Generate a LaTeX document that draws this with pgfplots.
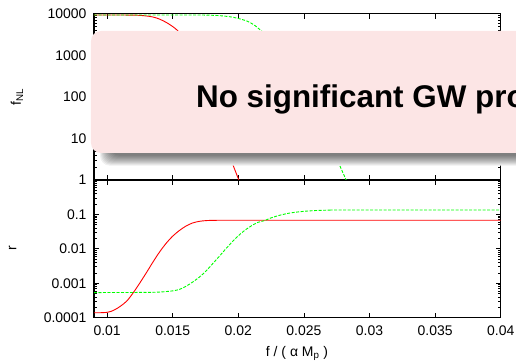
\documentclass[border=0pt]{standalone}
\usepackage{pgfplots}
\pgfplotsset{compat=1.18}
\usepackage{fontspec}
\setmainfont{Liberation Sans}
\definecolor{boxpink}{RGB}{252,229,229}
\definecolor{gpgreen}{RGB}{0,255,0}
\pgfplotsset{
  panelstyle/.style={
    scale only axis, width=406.7bp,
    xmin=0.009, xmax=0.04,
    scaled ticks=false,
    axis line style={line width=1.3bp, black},
    tick style={black, line width=0.8bp},
    major tick length=5bp, minor tick length=2.5bp,
    tick align=inside,
    xtick={0.01,0.015,0.02,0.025,0.03,0.035,0.04},
    ticklabel style={font=\fontsize{14}{16}\selectfont},
    /pgf/number format/assume math mode=true,
    yticklabel style={xshift=-4bp},
    xticklabel style={yshift=-4.6bp},
  },
  redline/.style={color=red, line width=0.9bp, mark=none, smooth},
  greenline/.style={color=gpgreen, line width=0.9bp, mark=none, smooth, dash pattern=on 3bp off 1.5bp},
}
\begin{document}
\begin{tikzpicture}[x=1bp,y=1bp]
\useasboundingbox (-94bp,-43.3bp) rectangle (422bp,317.7bp);
\clip (-94bp,-43.3bp) rectangle (422bp,317.7bp);
% bottom panel: r
\begin{axis}[panelstyle, ymode=log, at={(0bp,0bp)}, anchor=south west, height=137.7bp,
  ymin=0.0001, ymax=1,
  ytick={0.0001,0.001,0.01,0.1,1},
  yticklabels={0.0001,0.001,0.01,0.1,1},
  minor ytick={0.0002,0.0003,0.0004,0.0005,0.0006,0.0007,0.0008,0.0009,0.002,0.003,0.004,0.005,0.006,0.007,0.008,0.009,0.02,0.03,0.04,0.05,0.06,0.07,0.08,0.09,0.2,0.3,0.4,0.5,0.6,0.7,0.8,0.9},
  xticklabels={0.01,0.015,0.02,0.025,0.03,0.035,0.04},
]
\addplot[redline] coordinates {
(0.0090,1.39e-4) (0.0095,1.396e-4) (0.0100,1.43e-4) (0.0103,1.53e-4) (0.0106,1.72e-4)
(0.0110,2.14e-4) (0.0115,3.05e-4) (0.0120,5.37e-4) (0.0125,1.03e-3) (0.0130,2.05e-3)
(0.0135,4.17e-3) (0.0140,8.13e-3) (0.0145,0.0145) (0.0150,0.0234) (0.0155,0.0339)
(0.0160,0.0457) (0.0165,0.0562) (0.0170,0.0627) (0.0175,0.0660) (0.0180,0.0672)
(0.0190,0.0676) (0.0250,0.0676) (0.0400,0.0676)
};
\addplot[greenline] coordinates {
(0.0090,5.370e-4) (0.0130,5.433e-4) (0.0140,5.559e-4) (0.0145,5.754e-4) (0.0150,6.026e-4)
(0.0155,6.607e-4) (0.0160,8.128e-4) (0.0165,1.072e-3) (0.0170,1.479e-3) (0.0175,2.188e-3)
(0.0180,3.548e-3) (0.0185,5.754e-3) (0.0190,9.550e-3) (0.0195,0.01549) (0.0200,0.02399)
(0.0205,0.03467) (0.0210,0.04677) (0.0215,0.05888) (0.0220,0.06607) (0.0225,0.07943)
(0.0232,0.09550) (0.0240,0.1109) (0.0250,0.1230) (0.0260,0.1303) (0.0270,0.1334)
(0.0280,0.1343) (0.0400,0.1343)
};
\end{axis}
% top panel: f_NL
\begin{axis}[panelstyle, ymode=log, at={(0bp,137.7bp)}, anchor=south west, height=166.3bp,
  ymin=1, ymax=10000,
  ytick={1,10,100,1000,10000},
  yticklabels={,10,100,1000,10000},
  minor ytick={2,3,4,5,6,7,8,9,20,30,40,50,60,70,80,90,200,300,400,500,600,700,800,900,2000,3000,4000,5000,6000,7000,8000,9000},
  xticklabels={},
]
\addplot[redline] coordinates {
(0.0090,9300) (0.0110,9290) (0.0120,9250) (0.0125,9120) (0.0130,8810) (0.0135,8320)
(0.0140,7410) (0.01455,6070) (0.0150,4900) (0.01536,3960) (0.0158,2690) (0.0162,1610)
(0.0166,830) (0.0170,397) (0.0175,151) (0.0180,57.4) (0.0185,21.8) (0.0190,7.6)
(0.01955,2.51) (0.02004,1.0) (0.0202,0.75)
};
\addplot[greenline] coordinates {
(0.0090,9300) (0.0170,9290) (0.0180,9162) (0.0185,9016) (0.0190,8710) (0.0195,8318)
(0.0200,7674) (0.02065,6668) (0.0212,5370) (0.02172,3963) (0.0222,2951) (0.0227,1995)
(0.0232,1259) (0.0237,741) (0.0242,417) (0.0247,224) (0.0252,115) (0.0257,56.2)
(0.0262,26.3) (0.0267,11.7) (0.0272,5.01) (0.0277,2.34) (0.02822,1.0) (0.0284,0.76)
};
\end{axis}
% axis labels
\node[rotate=90, font=\fontsize{14}{16}\selectfont] at (-77bp,220.7bp) {f\textsubscript{NL}};
\node[rotate=90, font=\fontsize{14}{16}\selectfont] at (-81.5bp,69.2bp) {r};
\node[anchor=base, font=\fontsize{14}{16}\selectfont] at (203bp,-38.8bp) {f / ( α M\textsubscript{p} )};
% shadow
\fill[white, rounded corners=10bp] (6bp,152bp) rectangle (720bp,280bp);
\foreach \k in {0,...,10} {
  \pgfmathsetmacro{\sx}{6+\k}
  \pgfmathsetmacro{\sy}{152+\k}
  \fill[black, opacity=0.06, rounded corners=10bp] (\sx bp,\sy bp) rectangle (720bp,280bp);
}
% box
\fill[boxpink, rounded corners=10bp] (-3bp,164.7bp) rectangle (700bp,286.7bp);
\node[anchor=base west, inner sep=0, font=\bfseries\fontsize{31.5}{36}\selectfont] at (102bp,210.4bp) {No significant GW production};
\end{tikzpicture}
\end{document}
